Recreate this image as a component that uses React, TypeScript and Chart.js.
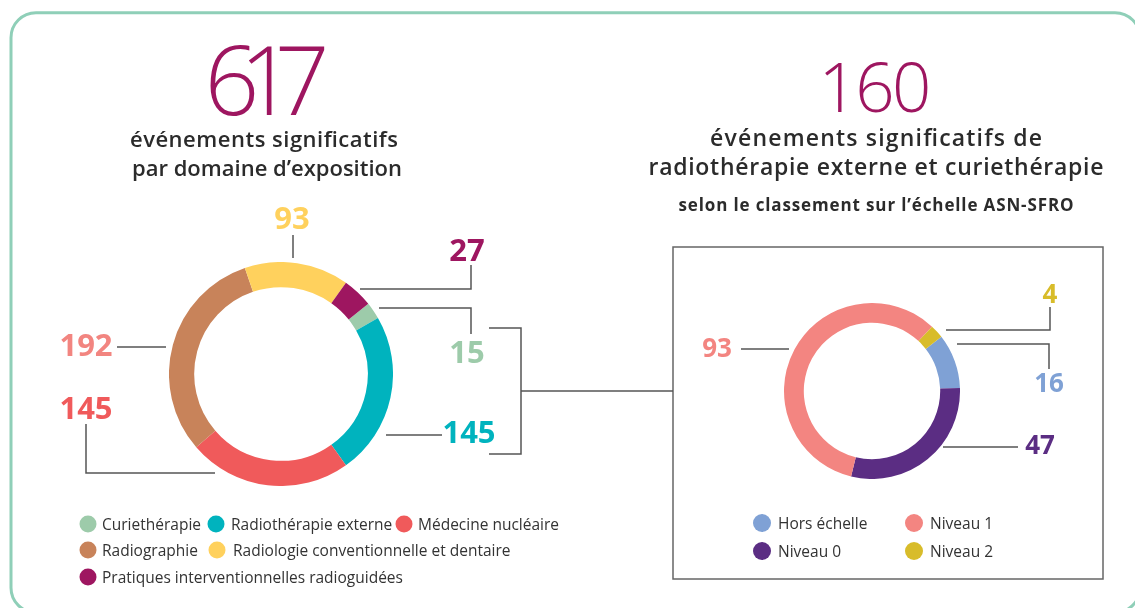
import React, { useEffect, useRef } from 'react';
import { Chart, registerables } from 'chart.js';

Chart.register(...registerables);

// ---- Data ----
const domainLabels = [
  'Curiethérapie',
  'Radiothérapie externe',
  'Médecine nucléaire',
  'Radiographie',
  'Radiologie conventionnelle et dentaire',
  'Pratiques interventionnelles radioguidées',
];
const domainValues = [15, 145, 145, 192, 93, 27];
const domainColors = ['#9DCBAA', '#00B3BE', '#F05A5B', '#C8835A', '#FFD15D', '#9E1660'];
const domainLabelColors = ['#9DCBAA', '#00B3BE', '#F05A5B', '#F28580', '#FFD15D', '#9E1660'];
const domainTotal = 617;
const domainTitle = ['événements significatifs', 'par domaine d’exposition'];

const levelLabels = ['Hors échelle', 'Niveau 0', 'Niveau 1', 'Niveau 2'];
const levelValues = [16, 47, 93, 4];
const levelColors = ['#7FA1D5', '#5B2D83', '#F38581', '#D8BC2A'];
const levelTotal = 160;
const levelTitle = [
  'événements significatifs de',
  'radiothérapie externe et curiethérapie',
];
const levelSubtitle = 'selon le classement sur l’échelle ASN-SFRO';

const FONT = "'Open Sans', 'Noto Sans', sans-serif";
const LINE = '#555555';

export default function App() {
  const leftRef = useRef<HTMLCanvasElement>(null);
  const rightRef = useRef<HTMLCanvasElement>(null);

  useEffect(() => {
    document.body.style.margin = '0';
    const opts = (rotation: number, cutout: string) => ({
      responsive: false,
      maintainAspectRatio: false,
      animation: false as const,
      rotation,
      cutout,
      layout: { padding: 0 },
      plugins: { legend: { display: false }, tooltip: { enabled: false } },
    });
    const c1 = new Chart(leftRef.current!, {
      type: 'doughnut',
      data: {
        labels: domainLabels,
        datasets: [{ data: domainValues, backgroundColor: domainColors, borderWidth: 0 }],
      },
      options: opts(51.2, '77.5%') as any,
    });
    const c2 = new Chart(rightRef.current!, {
      type: 'doughnut',
      data: {
        labels: levelLabels,
        datasets: [{ data: levelValues, backgroundColor: levelColors, borderWidth: 0 }],
      },
      options: opts(52, '77.5%') as any,
    });
    return () => {
      c1.destroy();
      c2.destroy();
    };
  }, []);

  const num = (x: number, y: number, t: string | number, color: string, size: number) => (
    <text x={x} y={y} textAnchor="middle" fill={color} fontSize={size} fontWeight={700} fontFamily={FONT}>
      {t}
    </text>
  );

  const title = (
    x: number,
    y: number,
    t: string | number,
    size: number,
    weight: number,
    len: number,
    color = '#2b2b2b'
  ) => (
    <text
      x={x - len / 2}
      y={y}
      fill={color}
      fontSize={size}
      fontWeight={weight}
      fontFamily={FONT}
      textLength={len}
      lengthAdjust="spacing"
    >
      {t}
    </text>
  );

  const leftLegend = [
    { i: 0, cx: 88, cy: 524, tx: 102 },
    { i: 1, cx: 216, cy: 524, tx: 231 },
    { i: 2, cx: 404, cy: 524, tx: 418 },
    { i: 3, cx: 88, cy: 550, tx: 102 },
    { i: 4, cx: 217, cy: 550, tx: 233 },
    { i: 5, cx: 88, cy: 577, tx: 102 },
  ];
  const rightLegend = [
    { i: 0, cx: 762, cy: 523, tx: 778 },
    { i: 2, cx: 914, cy: 523, tx: 930 },
    { i: 1, cx: 762, cy: 551, tx: 778 },
    { i: 3, cx: 914, cy: 551, tx: 930 },
  ];

  return (
    <div style={{ position: 'relative', width: 1135, height: 608, overflow: 'hidden', background: '#fff' }}>
      <canvas
        ref={leftRef}
        width={224}
        height={224}
        style={{ position: 'absolute', left: 169, top: 262, width: 224, height: 224 }}
      />
      <canvas
        ref={rightRef}
        width={176}
        height={176}
        style={{ position: 'absolute', left: 784, top: 303, width: 176, height: 176 }}
      />
      <svg
        width={1135}
        height={608}
        style={{ position: 'absolute', left: 0, top: 0, pointerEvents: 'none' }}
      >
        <rect x={11} y={12.7} width={1129} height={600} rx={25} ry={25} fill="none" stroke="#8FCFB8" strokeWidth={3} />
        <rect x={673} y={247} width={430} height={332} fill="none" stroke="#666" strokeWidth={1.5} />

        {/* Left titles */}
        {title(267, 115, domainTotal, 96, 300, 125, '#9E1660')}
        {title(264, 147, domainTitle[0], 22, 600, 268)}
        {title(267, 176, domainTitle[1], 22, 600, 270)}

        {/* Right titles */}
        {title(875, 112, levelTotal, 69, 300, 113, '#9E1660')}
        {title(876, 146, levelTitle[0], 23, 600, 332)}
        {title(876, 175, levelTitle[1], 23, 600, 455)}
        {title(876, 211, levelSubtitle, 17, 700, 395)}

        {/* Callout lines */}
        <g fill="none" stroke={LINE} strokeWidth={1.5}>
          <path d="M293 235 V258" />
          <path d="M471 265 V289 H360" />
          <path d="M379 308 H471 V334" />
          <path d="M386 435 H442" />
          <path d="M117 347 H166" />
          <path d="M86 424 V473 H215" />
          <path d="M489 328 H521 V454 H489" />
          <path d="M521 391 H673" />
          <path d="M741 349 H789" />
          <path d="M1050 307 V330 H946" />
          <path d="M957 344 H1049 V369" />
          <path d="M943 447 H1018" />
        </g>

        {/* Left callout numbers */}
        {num(292, 229, domainValues[4], domainLabelColors[4], 31)}
        {num(467, 261, domainValues[5], domainLabelColors[5], 31)}
        {num(467, 363, domainValues[0], domainLabelColors[0], 31)}
        {num(469, 443, domainValues[1], domainLabelColors[1], 31)}
        {num(86, 356, domainValues[3], domainLabelColors[3], 31)}
        {num(86, 419, domainValues[2], domainLabelColors[2], 31)}

        {/* Right callout numbers */}
        {num(717, 357, levelValues[2], levelColors[2], 26)}
        {num(1050, 303, levelValues[3], levelColors[3], 26)}
        {num(1049, 392, levelValues[0], levelColors[0], 26)}
        {num(1040, 454, levelValues[1], levelColors[1], 26)}

        {/* Legends */}
        {leftLegend.map((l) => (
          <g key={'l' + l.i}>
            <circle cx={l.cx} cy={l.cy} r={8.5} fill={domainColors[l.i]} />
            <text x={l.tx} y={l.cy + 5.5} fill="#333" fontSize={15.5} fontFamily={FONT}>
              {domainLabels[l.i]}
            </text>
          </g>
        ))}
        {rightLegend.map((l) => (
          <g key={'r' + l.i}>
            <circle cx={l.cx} cy={l.cy} r={9} fill={levelColors[l.i]} />
            <text x={l.tx} y={l.cy + 5.5} fill="#333" fontSize={15.5} fontFamily={FONT}>
              {levelLabels[l.i]}
            </text>
          </g>
        ))}
      </svg>
    </div>
  );
}
